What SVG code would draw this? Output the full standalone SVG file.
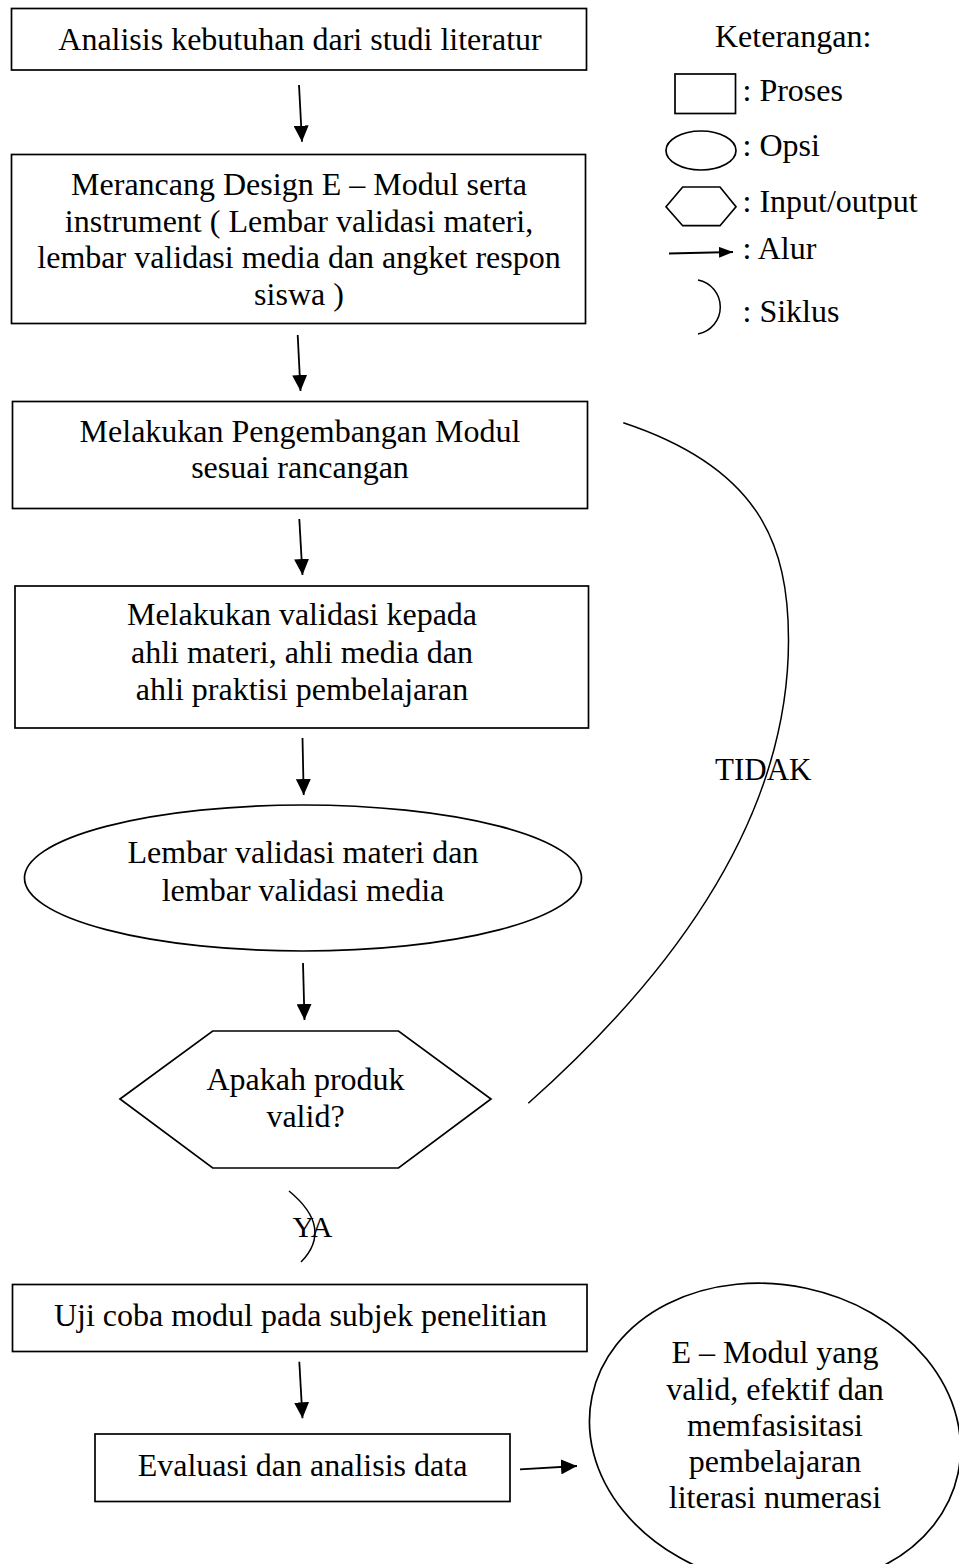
<svg xmlns="http://www.w3.org/2000/svg" width="959" height="1564" viewBox="0 0 959 1564">
<defs>
<style>
text{font-family:"Liberation Serif","Times New Roman",serif;font-size:32px;fill:#000}
.c{text-anchor:middle}
.s{fill:#fff;stroke:#000;stroke-width:1.7}
.ln{fill:none;stroke:#000;stroke-width:1.8}
.cv{fill:none;stroke:#000;stroke-width:1.5}
</style>
<marker id="ah" markerUnits="userSpaceOnUse" markerWidth="16" markerHeight="15" refX="16" refY="7.5" orient="auto">
<path d="M0,0 L16,7.5 L0,15 z" fill="#000"/>
</marker>
<marker id="ahs" markerUnits="userSpaceOnUse" markerWidth="14" markerHeight="11" refX="14" refY="5.5" orient="auto">
<path d="M0,0 L14,5.5 L0,11 z" fill="#000"/>
</marker>
</defs>
<rect width="959" height="1564" fill="#fff"/>

<g id="n1">
<rect class="s" x="11.5" y="8.5" width="575" height="61.5"/>
<text class="c" x="300" y="50">Analisis kebutuhan dari studi literatur</text>
</g>
<g id="n2">
<rect class="s" x="11.5" y="154.5" width="574" height="169"/>
<text class="c" x="299" y="195">Merancang Design E – Modul serta</text>
<text class="c" x="299" y="231.5">instrument ( Lembar validasi materi,</text>
<text class="c" x="299" y="268">lembar validasi media dan angket respon</text>
<text class="c" x="299" y="305">siswa )</text>
</g>
<g id="n3">
<rect class="s" x="12.5" y="401.5" width="575" height="107"/>
<text class="c" x="300" y="441.5">Melakukan Pengembangan Modul</text>
<text class="c" x="300" y="478">sesuai rancangan</text>
</g>
<g id="n4">
<rect class="s" x="15" y="586" width="573.5" height="142"/>
<text class="c" x="302" y="625">Melakukan validasi kepada</text>
<text class="c" x="302" y="662.5">ahli materi, ahli media dan</text>
<text class="c" x="302" y="699.5">ahli praktisi pembelajaran</text>
</g>
<g id="n5">
<ellipse class="s" cx="303" cy="878" rx="278.5" ry="73"/>
<text class="c" x="303" y="863">Lembar validasi materi dan</text>
<text class="c" x="303" y="901">lembar validasi media</text>
</g>
<g id="n6">
<polygon class="s" points="120,1099 212.7,1031 398.5,1031 491,1099 398.5,1168 212.7,1168"/>
<text class="c" x="305.5" y="1090">Apakah produk</text>
<text class="c" x="305.5" y="1126.5">valid?</text>
</g>
<g id="n7">
<rect class="s" x="12.5" y="1284.5" width="574.5" height="67"/>
<text class="c" x="300.5" y="1326">Uji coba modul pada subjek penelitian</text>
</g>
<g id="n8">
<rect class="s" x="95" y="1434" width="415" height="67.5"/>
<text class="c" x="302.5" y="1475.5">Evaluasi dan analisis data</text>
</g>
<g id="n9">
<ellipse class="s" cx="775" cy="1435" rx="187" ry="150" transform="rotate(12 775 1435)"/>
<text class="c" x="775" y="1363">E – Modul yang</text>
<text class="c" x="775" y="1399.5">valid, efektif dan</text>
<text class="c" x="775" y="1436">memfasisitasi</text>
<text class="c" x="775" y="1472">pembelajaran</text>
<text class="c" x="775" y="1508">literasi numerasi</text>
</g>

<g id="connectors">
<line class="ln" x1="299" y1="85" x2="302" y2="141.7" marker-end="url(#ah)"/>
<line class="ln" x1="297.7" y1="335" x2="300.5" y2="391" marker-end="url(#ah)"/>
<line class="ln" x1="299.3" y1="519" x2="302.5" y2="575" marker-end="url(#ah)"/>
<line class="ln" x1="302.5" y1="738" x2="303.7" y2="795" marker-end="url(#ah)"/>
<line class="ln" x1="303" y1="963" x2="304.5" y2="1020" marker-end="url(#ah)"/>
<line class="ln" x1="299.3" y1="1361.7" x2="302.5" y2="1418.3" marker-end="url(#ah)"/>
<line class="ln" x1="520" y1="1469.3" x2="577" y2="1466" marker-end="url(#ah)"/>
<path class="cv" d="M623.3,422.7 C760,468 788.5,545 788.5,640 Q788.5,871.8 528.3,1103.3"/>
<path class="cv" d="M289,1191 Q334,1228 301,1262"/>
<text x="715" y="780" style="font-size:31px">TIDAK</text>
<text x="292.5" y="1236.5" style="font-size:30px">YA</text>
</g>

<g id="legend">
<text x="715" y="47">Keterangan:</text>
<rect class="s" x="675" y="74" width="60.5" height="39.5"/>
<text x="742.5" y="101">: Proses</text>
<ellipse class="s" cx="701" cy="150.5" rx="35" ry="19.5"/>
<text x="742.5" y="156">: Opsi</text>
<polygon class="s" points="666,206.7 682.7,187 720,187 736,206.7 720,225.7 682.7,225.7"/>
<text x="742.5" y="211.7">: Input/output</text>
<line class="ln" x1="669" y1="253.5" x2="733" y2="252" marker-end="url(#ahs)"/>
<text x="742.5" y="259">: Alur</text>
<path class="cv" d="M698,280 A27.5,27.5 0 0 1 698,334"/>
<text x="742.5" y="321.7">: Siklus</text>
</g>
</svg>
